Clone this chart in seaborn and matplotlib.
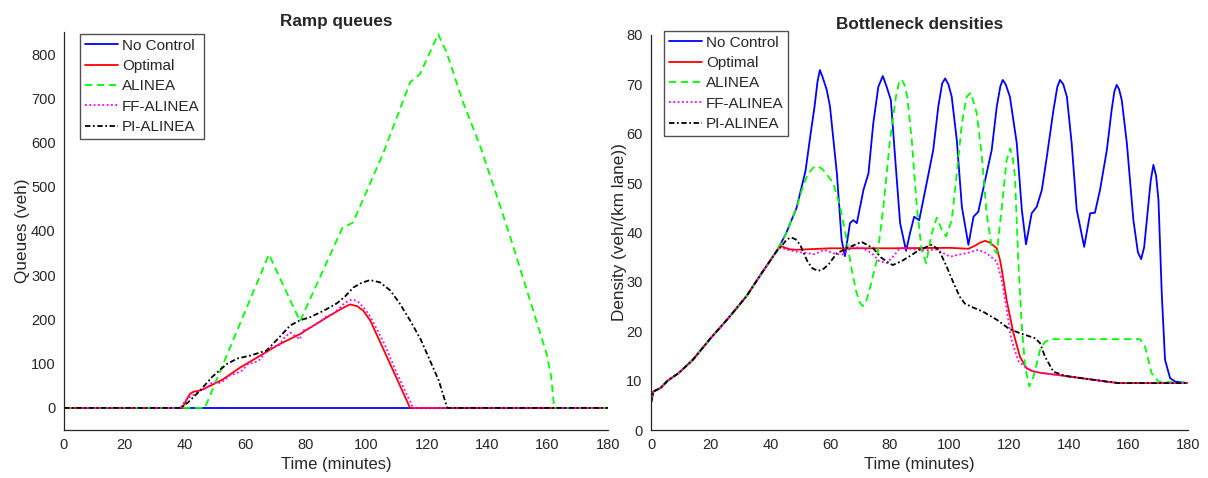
import numpy as np
import pandas as pd
import matplotlib
matplotlib.use("Agg")
import matplotlib.pyplot as plt
import seaborn as sns

# ---- Ramp queues (left) ----
nc_t = [0, 180]
nc_q = [0, 0]

opt_t = [0, 39, 39.5, 40.5, 41.7, 43, 45, 49, 52.7, 58, 64.9, 71, 78.1, 83, 88, 92,
         94.6, 97, 99, 101.3, 105.6, 110, 114.5, 180]
opt_q = [0, 0, 4, 18, 32, 37, 39, 52, 65, 90, 118, 143, 167, 188, 209, 225,
         234, 230, 220, 198, 134, 68, 0, 0]

alinea_t = [0, 46.6, 67.8, 78.1, 92.1, 95.6, 105.7, 114.5, 117.8, 123.8, 126.6, 132.1, 137.7,
            143.2, 148.7, 154.2, 159.7, 161.2, 162.2, 180]
alinea_q = [0, 0, 347, 196, 407, 419, 577, 736, 755, 845, 804, 690, 592,
            480, 364, 243, 122, 70, 0, 0]

ff_t = [0, 38.5, 39.5, 41, 43, 45, 47, 49, 51, 53, 55, 57, 59, 61, 63, 65, 67, 69, 71, 73,
        75, 77, 78, 79, 81, 83, 85, 87, 89, 91, 93, 95.2, 97, 99, 101, 103, 106, 110, 115.5, 180]
ff_q = [0, 0, 10, 22, 30, 40, 44, 58, 55, 62, 74, 78, 85, 100, 102, 110, 130, 138, 140, 160,
        170, 160, 155, 175, 180, 187, 196, 208, 212, 225, 238, 245, 242, 228, 210, 185, 145, 80, 0, 0]

pi_t = [0, 38.4, 41, 45, 49, 53.8, 57.5, 61.5, 67.1, 71, 74.8, 78, 81.4, 86, 90.2, 93, 95.7,
        98.5, 101.3, 104.5, 107.9, 111, 114.5, 118, 121.1, 124, 126.8, 180]
pi_q = [0, 0, 12, 39, 70, 99, 112, 118, 130, 158, 186, 198, 205, 220, 236, 252, 272,
        283, 289, 284, 266, 237, 198, 155, 107, 62, 0, 0]

# ---- Bottleneck densities (right) ----
base_t = [0, 0.8, 3.2, 5.6, 9.2, 14, 20, 26, 32, 36.8, 42.2]
base_d = [5.5, 7.8, 8.5, 10, 11.5, 14.2, 18.6, 22.7, 27.1, 31.5, 36.3]

nc_tail_t = [45.2, 48.8, 51.8, 53.5, 54.8, 55.8, 56.6, 57.5, 58.9, 60, 62.3, 63.9, 65, 66.7,
             67.8, 69, 71.2, 72.9, 74.5, 76.2, 77.7, 79, 80.4, 81.8, 83.5, 85.5, 86.8, 88.2,
             89.9, 92.4, 94.6, 96.3, 97.6, 98.6, 99.7, 100.8, 102.5, 104.2, 106.4, 108.1,
             109.7, 112, 114.2, 115.9, 117.1, 117.9, 118.9, 120.3, 122.6, 124.3, 125.7, 127.6,
             129.3, 131, 132.7, 134.9, 136.2, 137.1, 138.2, 139.4, 141, 142.7, 145.2, 147.2,
             148.8, 150.5, 152.8, 154.4, 155.3, 156.1, 156.9, 157.8, 159.5, 161.7, 163.2,
             164.3, 165.3, 166.2, 167.5, 168.4, 169.3, 170.1, 171.2, 172.3, 174, 175.7, 180]
nc_tail_d = [39.7, 45, 52.5, 60, 65.4, 70.5, 72.9, 71.5, 68.9, 65.5, 52, 38.5, 35.2, 41.9,
             42.5, 41.9, 48.6, 52, 62.1, 69.5, 71.7, 69.5, 66.8, 55.4, 41.9, 36.3, 39.8, 43.2,
             42.5, 50, 56.7, 65.5, 70.2, 71.2, 70, 67.5, 58.7, 45.2, 37.5, 43.2,
             44.2, 50.6, 56.7, 65.5, 69.6, 70.9, 70, 67.5, 58.1, 44.6, 37.6, 43.9,
             45.2, 48.6, 55.4, 64.8, 69.5, 70.9, 70, 67.5, 58.1, 44.6, 37.1, 43.9,
             44, 48.6, 56.7, 64.8, 68.5, 69.9, 69, 66.8, 58.1, 42.5, 36,
             34.6, 37, 42.5, 50.5, 53.7, 51.5, 46.6, 27.7, 14.2, 10.5, 9.8, 9.5]

opt_tail_t = [43.4, 45, 46.4, 48.8, 60, 80, 100, 106.4, 108.5, 110.5, 112, 113.5, 115.9, 117,
              117.6, 119.2, 121.5, 123.7, 125.9, 128, 130.4, 139.4, 152.8, 156.7, 180]
opt_tail_d = [37.3, 36.9, 36.6, 36.5, 36.8, 36.8, 36.9, 36.7, 37.3, 38, 38.3, 38, 36.8, 34.4,
              32.4, 26.3, 19.6, 14.8, 12.5, 11.9, 11.6, 10.9, 9.8, 9.5, 9.5]

alinea_tail_t = [45.2, 48.8, 50.5, 52.5, 54.5, 56, 57.5, 59.5, 61.1, 63.4, 65.6, 67.3, 68.8, 70,
                 71, 72, 73.4, 75.7, 77.9, 80.1, 82.1, 83.2, 84, 84.9, 85.9, 87.4, 89.1, 90.7,
                 92.2, 94.1, 95.8, 97.5, 98.9, 100.8, 102.5, 104.2, 105.8, 107.2, 109.2, 110.9,
                 112.5, 114.2, 115.9, 117.6, 119.2, 120.4, 121.3, 122, 123.1, 124.3, 125.4,
                 126.8, 128.2, 130.4, 132, 133.8, 163.9, 165.6, 167.8, 170.1, 180]
alinea_tail_d = [39.7, 45, 48.5, 51.8, 53.2, 53.4, 52.8, 51.3, 50, 45.2, 38.5, 32.4, 28, 25.8,
                 25.1, 25.8, 28.8, 34.4, 45.2, 58.7, 67.5, 70.5, 71, 70, 67.5, 58.7, 45.2, 36.5,
                 33.8, 39.8, 43, 40.5, 39.2, 42.5, 52, 62.1, 67.5, 68.3, 64.1, 55.4,
                 43.9, 37.1, 35.8, 45.2, 54.7, 57, 55, 51.3, 34.4, 20.9, 12.8,
                 8.8, 10.8, 16.2, 17.8, 18.4, 18.4, 16.9, 11.5, 9.8, 9.5]

ff_tail_t = [43.4, 46.4, 50, 54.8, 58, 61.1, 64, 67.8, 71, 74, 76.5, 79, 81, 83.5, 88, 92, 95.8,
             98, 100.3, 103, 105.8, 109.7, 112.5, 115.9, 117.5, 119, 120.7, 123.1, 125.9, 128,
             130.4, 139.4, 152.8, 156.7, 180]
ff_tail_d = [36.9, 36.4, 36, 35.6, 36.5, 35.8, 35.5, 37.1, 36.8, 35.8, 34.2, 33.8, 35, 36.9, 36.6,
             36.4, 36.5, 35.8, 35.1, 35.5, 35.8, 36.5, 35.8, 34.1, 30.5, 25.4, 18.5, 14, 12.5, 11.9,
             11.6, 10.9, 9.8, 9.5, 9.5]

pi_tail_t = [44, 45.5, 47, 48.5, 50, 52.4, 54, 56, 58, 59.6, 62.3, 66.7, 70.6, 74.5, 77, 79, 81,
             84, 87, 90, 94.1, 96.5, 99.1, 101.6, 103.5, 105.2, 108, 111.2, 116, 120, 123.7,
             128.7, 130.4, 132.1, 134.9, 138.2, 139.4, 152.8, 156.7, 180]
pi_tail_d = [37.4, 38.6, 39, 38.6, 37.5, 34.2, 32.8, 32.2, 32.7, 33.6, 35.8, 37.1, 38.1, 36.8, 35,
             34.1, 33.4, 34.2, 35.3, 36.5, 37.5, 36.5, 33.1, 29.5, 27, 25.6, 24.8, 24, 22.3, 20.5,
             19.6, 18.6, 17.6, 14.8, 11.8, 11.1, 10.9, 9.8, 9.5, 9.5]

labels = ["No Control", "Optimal", "ALINEA", "FF-ALINEA", "PI-ALINEA"]
colors = ["#0000FF", "#FF0000", "#00FF00", "#FF00FF", "#000000"]
styles = ["-", "-", (0, (4, 2.6)), (0, (1, 1.4)), (0, (3, 1.4, 1, 1.4))]

sns.set_style("white")
plt.rcParams["font.family"] = ["Liberation Sans", "DejaVu Sans"]
plt.rcParams["xtick.direction"] = "in"
plt.rcParams["ytick.direction"] = "in"

fig = plt.figure(figsize=(12.08, 4.78), dpi=100)
ax1 = fig.add_axes([64 / 1208, 1 - 430 / 478, 544 / 1208, 398 / 478])
ax2 = fig.add_axes([651 / 1208, 1 - 430 / 478, 537 / 1208, 395 / 478])

left_series = [(nc_t, nc_q), (opt_t, opt_q), (alinea_t, alinea_q), (ff_t, ff_q), (pi_t, pi_q)]
right_series = [
    (base_t + nc_tail_t, base_d + nc_tail_d),
    (base_t + opt_tail_t, base_d + opt_tail_d),
    (base_t + alinea_tail_t, base_d + alinea_tail_d),
    (base_t + ff_tail_t, base_d + ff_tail_d),
    (base_t + pi_tail_t, base_d + pi_tail_d),
]

for ax, series in [(ax1, left_series), (ax2, right_series)]:
    for (t, v), lab, c, ls in zip(series, labels, colors, styles):
        sns.lineplot(x=t, y=v, ax=ax, color=c, linestyle=ls, linewidth=1.3,
                     label=lab, errorbar=None, sort=False)

ax1.set_xlim(0, 180)
ax1.set_ylim(-50, 850)
ax1.set_yticks(np.arange(0, 801, 100))
ax1.set_title("Ramp queues", fontsize=12.3, fontweight="bold", pad=4)
ax1.set_xlabel("Time (minutes)", fontsize=12, labelpad=3)
ax1.set_ylabel("Queues (veh)", fontsize=12.3, labelpad=1)

ax2.set_xlim(0, 180)
ax2.set_ylim(0, 80)
ax2.set_yticks(np.arange(0, 81, 10))
ax2.set_title("Bottleneck densities", fontsize=12.3, fontweight="bold", pad=4)
ax2.set_xlabel("Time (minutes)", fontsize=12, labelpad=3)
ax2.set_ylabel("Density (veh/(km lane))", fontsize=12.3, labelpad=-0.5)

legend_anchor = {ax1: (16 / 544, 1 - 2 / 398), ax2: (13 / 537, 1 + 4 / 395)}
for ax in (ax1, ax2):
    ax.set_xticks(np.arange(0, 181, 20))
    ax.tick_params(labelsize=10.5, length=4, width=0.8, pad=6, color="#262626",
                   labelcolor="#262626")
    for side in ("top", "right"):
        ax.spines[side].set_visible(False)
    for side in ("left", "bottom"):
        ax.spines[side].set_color("#262626")
        ax.spines[side].set_linewidth(0.9)
    leg = ax.legend(loc="upper left", bbox_to_anchor=legend_anchor[ax], fontsize=11,
                    frameon=True, fancybox=False, edgecolor="#262626", handlelength=2.2,
                    handletextpad=0.25, borderpad=0.3, labelspacing=0.42, borderaxespad=0)
    leg.get_frame().set_linewidth(1.0)

fig.savefig("out.png", dpi=100)
